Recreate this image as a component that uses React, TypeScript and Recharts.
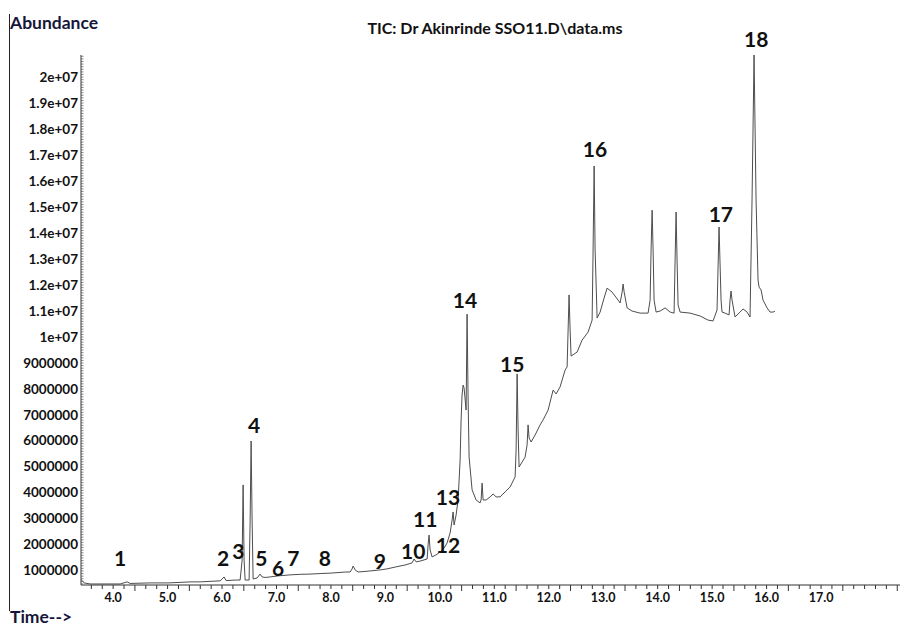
import { LineChart, Line, XAxis, YAxis, ReferenceDot } from "recharts";

// retention time (min) and abundance (millions of counts)
const retentionTime = [
  3.42, 3.467, 3.578, 3.761, 4.0, 4.129, 4.257, 4.312, 4.679, 4.863, 5.01, 5.23, 5.414, 5.598, 5.781, 5.965,
  6.001, 6.038, 6.075, 6.24, 6.332, 6.369, 6.387, 6.405, 6.424, 6.497, 6.516, 6.534, 6.552, 6.571, 6.644,
  6.699, 6.736, 6.791, 6.883, 7.03, 7.25, 7.434, 7.617, 7.801, 8.021, 8.26, 8.352, 8.389, 8.407, 8.444,
  8.499, 8.719, 8.903, 9.031, 9.178, 9.362, 9.49, 9.527, 9.564, 9.637, 9.766, 9.784, 9.802, 9.821, 9.857,
  9.931, 10.004, 10.078, 10.133, 10.188, 10.225, 10.243, 10.261, 10.298, 10.335, 10.372, 10.39, 10.408,
  10.427, 10.445, 10.482, 10.5, 10.519, 10.537, 10.592, 10.666, 10.739, 10.757, 10.776, 10.794, 10.849,
  10.923, 10.978, 11.033, 11.106, 11.198, 11.29, 11.382, 11.4, 11.419, 11.437, 11.455, 11.51, 11.565,
  11.602, 11.62, 11.639, 11.676, 11.749, 11.841, 11.896, 11.988, 12.043, 12.08, 12.135, 12.208, 12.3,
  12.337, 12.355, 12.373, 12.392, 12.41, 12.52, 12.612, 12.722, 12.796, 12.814, 12.833, 12.851, 12.888,
  12.943, 13.016, 13.071, 13.163, 13.273, 13.31, 13.347, 13.365, 13.384, 13.439, 13.53, 13.677, 13.824,
  13.861, 13.879, 13.898, 13.916, 13.934, 13.971, 14.045, 14.136, 14.228, 14.301, 14.32, 14.338, 14.356,
  14.375, 14.412, 14.595, 14.779, 14.926, 15.017, 15.09, 15.127, 15.164, 15.182, 15.237, 15.311, 15.329,
  15.347, 15.366, 15.421, 15.513, 15.568, 15.641, 15.696, 15.733, 15.77, 15.807, 15.843, 15.862, 15.899,
  15.935, 16.009, 16.064, 16.119, 16.155,
];

const abundanceM = [
  0.65, 0.54, 0.5, 0.5, 0.5, 0.5, 0.58, 0.52, 0.54, 0.54, 0.54, 0.56, 0.58, 0.58, 0.6, 0.62,
  0.69, 0.77, 0.63, 0.65, 0.65, 1.42, 4.31, 1.42, 0.65, 0.65, 2.96, 6.0, 2.96, 0.69, 0.73,
  0.88, 0.77, 0.75, 0.77, 0.81, 0.85, 0.87, 0.88, 0.9, 0.92, 0.96, 0.96, 1.08, 1.19, 1.04,
  0.96, 1.0, 1.04, 1.08, 1.15, 1.23, 1.31, 1.46, 1.35, 1.38, 1.46, 2.0, 2.38, 1.81, 1.54,
  1.62, 1.73, 1.88, 2.08, 2.46, 2.96, 3.27, 2.77, 3.15, 3.73, 5.27, 6.81, 7.77,
  8.15, 8.04, 7.19, 10.88, 7.58, 5.38, 4.12, 3.73, 3.62, 3.73, 4.38, 3.73, 3.73,
  3.85, 3.96, 3.85, 3.85, 4.04, 4.23, 4.62, 5.65, 8.58, 6.42, 5.0, 5.19, 5.38,
  5.85, 6.62, 6.12, 5.96, 6.23, 6.62, 6.81, 7.19, 7.65, 7.96, 7.81, 8.08, 8.73,
  8.85, 10.27, 11.62, 10.27, 9.27, 9.42, 9.88, 10.19, 10.65, 13.35, 16.58, 13.35, 10.73,
  10.96, 11.5, 11.88, 11.73, 11.42, 11.31, 11.73, 12.04, 11.73, 11.12, 11.0, 10.92, 10.92,
  11.42, 13.35, 14.88, 13.35, 11.42, 10.96, 11.0, 11.12, 10.96, 10.92, 12.96, 14.81, 12.96,
  11.23, 10.96, 10.92, 10.81, 10.65, 10.62, 11.04, 14.23, 11.42, 10.96, 10.92, 10.85, 11.42,
  11.77, 11.42, 10.77, 10.96, 11.08, 10.96, 10.77, 15.27, 20.85, 15.27, 12.19, 11.92, 11.81,
  11.42, 11.12, 10.96, 10.96, 11.0,
];

// peak numbers and where their labels sit (time, abundance in millions)
const peakNumbers = ["1", "2", "3", "4", "5", "6", "7", "8", "9", "10", "11", "12", "13", "14", "15", "16", "17", "18"];
const peakLabelTime = [4.13, 6.02, 6.3, 6.59, 6.72, 7.03, 7.31, 7.89, 8.9, 9.51, 9.73, 10.15, 10.15, 10.46, 11.33, 12.85, 15.16, 15.81];
const peakLabelAbundanceM = [1.5, 1.5, 1.77, 6.62, 1.5, 1.12, 1.5, 1.5, 1.42, 1.77, 3.0, 2.0, 3.88, 11.46, 9.0, 17.27, 14.77, 21.5];

const xTickLabels = ["4.0", "5.0", "6.0", "7.0", "8.0", "9.0", "10.0", "11.0", "12.0", "13.0", "14.0", "15.0", "16.0", "17.0"];
const yTickLabels = [
  "1000000", "2000000", "3000000", "4000000", "5000000", "6000000", "7000000", "8000000", "9000000",
  "1e+07", "1.1e+07", "1.2e+07", "1.3e+07", "1.4e+07", "1.5e+07", "1.6e+07", "1.7e+07", "1.8e+07", "1.9e+07", "2e+07",
];

const FONT = "Lato, 'Open Sans', sans-serif";
const AXIS = "#333";

const chromatogram = retentionTime.map((t, i) => ({ t, abundance: abundanceM[i] * 1e6 }));

// minor ticks: every 0.2 min and every 100000 counts
const xTicks = Array.from({ length: 75 }, (_, i) => Math.round((3.6 + i * 0.2) * 10) / 10);
const yTicks = Array.from({ length: 204 }, (_, i) => (5 + i) * 100000);

const XTick = (props: any) => {
  const { x, y, payload } = props;
  const v: number = payload.value;
  const major = Math.round(v * 10) % 10 === 4;
  const idx = xTickLabels.indexOf(v.toFixed(1));
  return (
    <g>
      <line x1={x} x2={x} y1={y} y2={y + (major ? 6 : 4)} stroke={AXIS} strokeWidth={1} />
      {idx >= 0 && (
        <text x={x} y={y + 17} textAnchor="middle" fontFamily={FONT} fontSize={12.5} fontWeight={700} fill="#111">
          {xTickLabels[idx]}
        </text>
      )}
    </g>
  );
};

const YTick = (props: any) => {
  const { x, y, payload } = props;
  const v: number = payload.value;
  const major = v % 1000000 === 0;
  const idx = Math.round(v / 1000000) - 1;
  return (
    <g>
      <line x1={x} x2={x + 2.5} y1={y} y2={y} stroke="#666" strokeWidth={0.8} />
      {major && idx >= 0 && idx < yTickLabels.length && (
        <text x={x - 3} y={y} dy={4.5} textAnchor="end" fontFamily={FONT} fontSize={13.5} fontWeight={700} fill="#111">
          {yTickLabels[idx]}
        </text>
      )}
    </g>
  );
};

const PeakLabel = (text: string) => (props: any) => (
  <text
    x={props.cx}
    y={props.cy}
    textAnchor="middle"
    dominantBaseline="central"
    fontFamily={FONT}
    fontSize={21}
    fontWeight={700}
    fill="#111"
  >
    {text}
  </text>
);

export default function App() {
  return (
    <div style={{ position: "absolute", left: 0, top: 0, width: 901, height: 626, background: "#fff", fontFamily: FONT }}>
      <div style={{ position: "absolute", left: 9, top: 14, width: 0, height: 597, borderLeft: "1.5px solid #222" }} />
      <div style={{ position: "absolute", left: 10, top: 13, fontSize: 17.5, fontWeight: 700, color: "#16163a", lineHeight: "20px" }}>
        Abundance
      </div>
      <div
        style={{
          position: "absolute",
          left: 355,
          top: 18,
          width: 280,
          textAlign: "center",
          fontSize: 16,
          fontWeight: 700,
          color: "#111",
          lineHeight: "19px",
          whiteSpace: "nowrap",
        }}
      >
        TIC: Dr Akinrinde SSO11.D\data.ms
      </div>
      <div style={{ position: "absolute", left: 10, top: 607, fontSize: 17.5, fontWeight: 700, color: "#16163a", lineHeight: "20px" }}>
        Time--&gt;
      </div>
      <LineChart width={901} height={626} data={chromatogram} margin={{ top: 55, right: 1, bottom: 0, left: 0 }}>
        <XAxis
          dataKey="t"
          type="number"
          domain={[3.41, 18.45]}
          allowDataOverflow
          ticks={xTicks}
          interval={0}
          tick={<XTick />}
          tickLine={false}
          tickSize={0}
          tickMargin={0}
          axisLine={{ stroke: AXIS, strokeWidth: 1 }}
          height={41}
        />
        <YAxis
          type="number"
          domain={[460000, 20850000]}
          allowDataOverflow
          ticks={yTicks}
          interval={0}
          tick={<YTick />}
          tickLine={false}
          tickSize={0}
          tickMargin={0}
          axisLine={{ stroke: AXIS, strokeWidth: 1 }}
          width={81}
        />
        <Line
          type="linear"
          dataKey="abundance"
          stroke="#4d4d4d"
          strokeWidth={1}
          dot={false}
          isAnimationActive={false}
        />
        {peakNumbers.map((n, i) => (
          <ReferenceDot
            key={n}
            x={peakLabelTime[i]}
            y={peakLabelAbundanceM[i] * 1e6}
            r={0}
            ifOverflow="visible"
            shape={PeakLabel(n)}
          />
        ))}
      </LineChart>
    </div>
  );
}
